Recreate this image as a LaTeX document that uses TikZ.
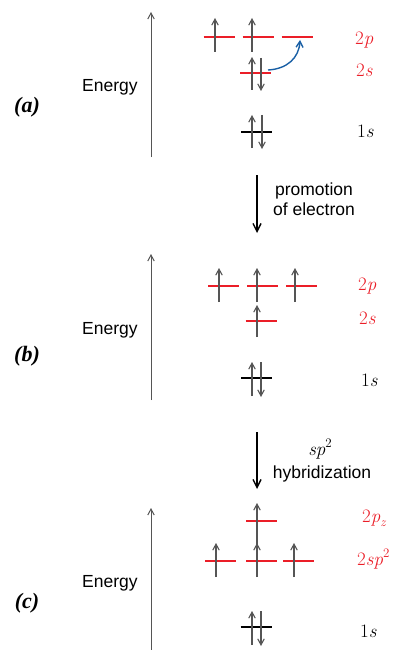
\documentclass[tikz,border=0pt]{standalone}
\usepackage{fontspec}
\newfontfamily\lblsans{Liberation Sans}
\newfontfamily\panelserif{Liberation Serif}
\usetikzlibrary{arrows.meta}
\definecolor{orbred}{RGB}{235,30,40}
\definecolor{elgray}{RGB}{85,85,85}
\definecolor{promblue}{RGB}{25,95,165}
\newcommand\orbsup[1]{\raisebox{7.5pt}{\fontsize{13}{15}\selectfont #1}}
\newcommand\orbsub[1]{\raisebox{-4.5pt}{\fontsize{13}{15}\selectfont\itshape #1}}
\tikzset{
  orbline/.style={draw=orbred, line width=2.8pt},
  coreline/.style={draw=black, line width=2.8pt},
  elec/.style={draw=elgray, line width=1.1pt, -{Straight Barb[length=6pt,width=6.5pt]}},
  axisline/.style={draw=elgray, line width=1pt, -{Straight Barb[length=6pt,width=6.5pt]}},
  transarrow/.style={draw=black, line width=1.4pt, -{Straight Barb[length=8pt,width=8pt]}},
  sanslbl/.style={font=\lblsans\fontsize{17.5}{20}\selectfont, inner sep=0pt, anchor=base},
  mathlbl/.style={font=\fontsize{19}{22}\selectfont, inner sep=0pt, anchor=base west},
  panellbl/.style={font=\panelserif\fontsize{22}{26}\selectfont\bfseries\itshape, inner sep=0pt, anchor=base},
}
\newcommand\orbitalbar[4]{\draw[#1] (#2-15.5,#3) -- (#2+15.5,#3); \coordinate (#4) at (#2,#3);}
\newcommand\elecup[3]{\draw[elec] (#1,#3) -- (#1,#2);}
\begin{document}
\begin{tikzpicture}[x=1pt,y=-1pt]
\useasboundingbox (0,0) rectangle (396,650);
% ---------------- panel (a)
\coordinate (axA0) at (151,157); \coordinate (axA1) at (151,12);
\draw[axisline] (axA0) -- (axA1);
\node[sanslbl, anchor=base west] (enA) at (82,92) {Energy};
\node[panellbl] (pa) at (27,113) {(a)};
\orbitalbar{orbline}{219}{37}{a2p1}
\orbitalbar{orbline}{258}{37}{a2p2}
\orbitalbar{orbline}{297}{37}{a2p3}
\orbitalbar{orbline}{255.5}{73}{a2s}
\orbitalbar{coreline}{256.5}{132}{a1s}
\elecup{215}{18}{52}
\elecup{252}{18}{52}
\elecup{252}{57}{90}
\draw[elec] (261,58) -- (261,91);
\elecup{252}{115}{148}
\draw[elec] (262,115) -- (262,149);
\coordinate (bstart) at (268,70);
\coordinate (bend) at (300,40);
\draw[draw=promblue, line width=1.4pt, -{Straight Barb[length=6pt,width=7pt]}] (bstart) .. controls (287,69) and (299,58) .. (bend);
\node[mathlbl, text=orbred] (la2p) at (355,45) {2\textit{p}};
\node[mathlbl, text=orbred] (la2s) at (356,77) {2\textit{s}};
\node[mathlbl] (la1s) at (357,137) {1\textit{s}};
% transition 1
\coordinate (t1a) at (257,175); \coordinate (t1b) at (257,233);
\draw[transarrow] (t1a) -- (t1b);
\node[sanslbl] (prom1) at (314,195) {promotion};
\node[sanslbl] (prom2) at (314,215) {of electron};
% ---------------- panel (b)
\coordinate (axB0) at (151,400); \coordinate (axB1) at (151,254);
\draw[axisline] (axB0) -- (axB1);
\node[sanslbl, anchor=base west] (enB) at (82,334) {Energy};
\node[panellbl] (pb) at (27,361) {(b)};
\orbitalbar{orbline}{223.5}{286}{b2p1}
\orbitalbar{orbline}{262.5}{286}{b2p2}
\orbitalbar{orbline}{301.5}{286}{b2p3}
\orbitalbar{orbline}{261}{321}{b2s}
\orbitalbar{coreline}{256.5}{378}{b1s}
\elecup{219}{268}{302}
\elecup{257}{268}{302}
\elecup{295}{268}{302}
\elecup{257}{305}{337}
\elecup{252}{362}{396}
\draw[elec] (261,362) -- (261,397);
\node[mathlbl, text=orbred] (lb2p) at (358,290) {2\textit{p}};
\node[mathlbl, text=orbred] (lb2s) at (359,324) {2\textit{s}};
\node[mathlbl] (lb1s) at (361,386) {1\textit{s}};
% transition 2
\coordinate (t2a) at (257,432); \coordinate (t2b) at (257,489);
\draw[transarrow] (t2a) -- (t2b);
\node[font=\fontsize{19}{22}\selectfont, inner sep=0pt, anchor=base] (hyb1) at (320,455) {\textit{sp}\orbsup{2}};
\node[sanslbl] (hyb2) at (322,478) {hybridization};
% ---------------- panel (c)
\coordinate (axC0) at (151,650); \coordinate (axC1) at (151,508);
\draw[axisline] (axC0) -- (axC1);
\node[sanslbl, anchor=base west] (enC) at (82,587) {Energy};
\node[panellbl] (pc) at (27,608) {(c)};
\orbitalbar{orbline}{261.5}{521}{c2pz}
\orbitalbar{orbline}{220.5}{561}{c2sp1}
\orbitalbar{orbline}{261.5}{561}{c2sp2}
\orbitalbar{orbline}{298.5}{561}{c2sp3}
\orbitalbar{coreline}{256}{627}{c1s}
\elecup{257}{503}{545}
\elecup{216}{543}{577}
\elecup{257}{543}{577}
\elecup{294}{543}{577}
\elecup{252}{611}{645}
\draw[elec] (261,611) -- (261,646);
\node[mathlbl, text=orbred] (lc2pz) at (362,522) {2\textit{p}\orbsub{z}};
\node[mathlbl, text=orbred] (lc2sp) at (357,565) {2\textit{sp}\orbsup{2}};
\node[mathlbl] (lc1s) at (360,637) {1\textit{s}};
\end{tikzpicture}
\end{document}
